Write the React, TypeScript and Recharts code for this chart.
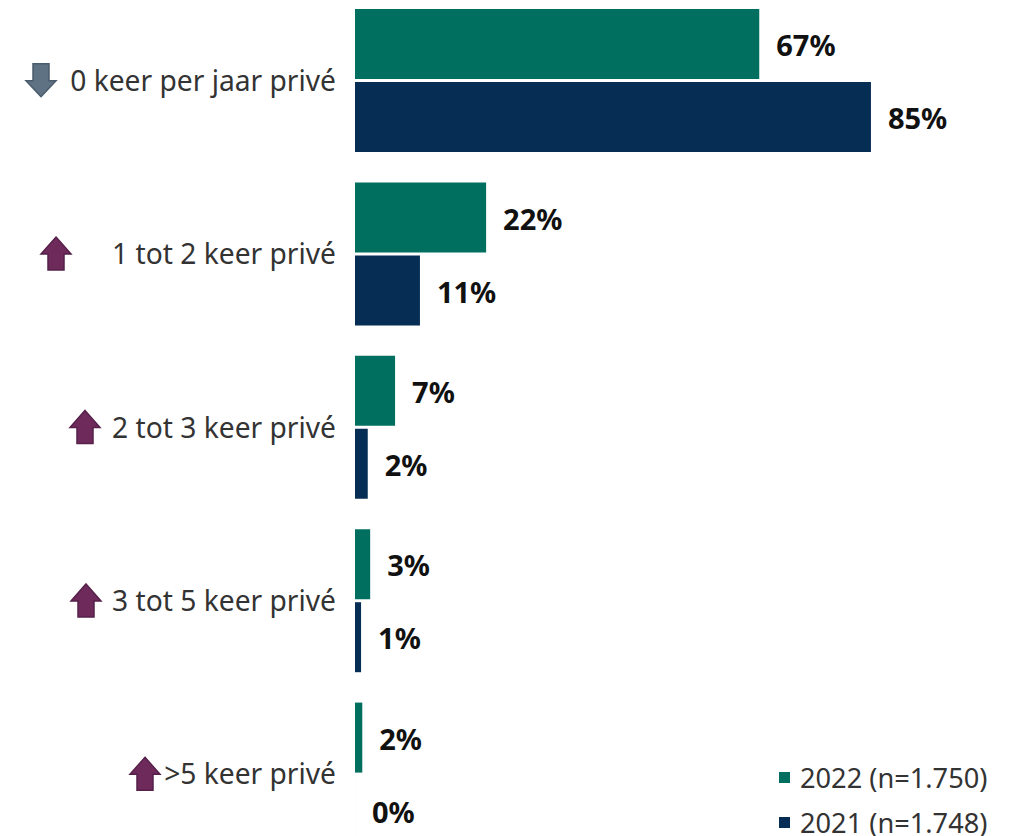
import React from 'react';
import { BarChart, Bar, XAxis, YAxis, LabelList } from 'recharts';

const categories = ['0 keer per jaar privé', '1 tot 2 keer privé', '2 tot 3 keer privé', '3 tot 5 keer privé', '>5 keer privé'];
const values2022 = [66.6, 21.6, 6.6, 2.5, 1.2];
const values2021 = [85, 10.7, 2.1, 1, 0.002];
const labels2022 = ['67%', '22%', '7%', '3%', '2%'];
const labels2021 = ['85%', '11%', '2%', '1%', '0%'];
const trend = ['down', 'up', 'up', 'up', 'up'];
const seriesNames = ['2022 (n=1.750)', '2021 (n=1.748)'];

const data = categories.map((name, i) => ({
  name,
  a: values2022[i],
  b: values2021[i],
  la: labels2022[i],
  lb: labels2021[i],
  trend: trend[i],
}));

const GREEN = '#006f5f';
const NAVY = '#062d53';
const FONT = '"Noto Sans", sans-serif';
const arrowLeft = [25, 40, 69, 70, 129];

const Tick = (props: any) => {
  const { y, payload, index } = props;
  const isUp = trend[index] === 'up';
  const ax = arrowLeft[index];
  const ay = y - 17;
  const up = 'M16 0 L31 17 L24 17 L24 33 L8 33 L8 17 L1 17 Z';
  const down = 'M8 0 L24 0 L24 17 L31 17 L16 33 L1 17 L8 17 Z';
  return (
    <g>
      <path
        transform={`translate(${ax},${ay})`}
        d={isUp ? up : down}
        fill={isUp ? '#6f2a5c' : '#5f7284'}
        stroke={isUp ? '#56204a' : '#4a5c6c'}
        strokeWidth={1.5}
      />
      <text x={336} y={y} dy={10} textAnchor="end" fontFamily={FONT} fontSize={28.2} fill="#333333">
        {payload.value}
      </text>
    </g>
  );
};

const labelStyle = { fontFamily: FONT, fontSize: 29, fontWeight: 700, fill: '#111111' };

export default function App() {
  return (
    <div style={{ position: 'absolute', left: 0, top: 0, width: 1013, height: 836, overflow: 'hidden', background: '#fff' }}>
      <div style={{ position: 'absolute', left: 0, top: -6 }}>
        <BarChart
          width={1013}
          height={867}
          data={data}
          layout="vertical"
          margin={{ top: 0, right: 51, bottom: 0, left: 0 }}
          barSize={70}
          barGap={3}
        >
          <XAxis type="number" domain={[0, 100]} hide />
          <YAxis type="category" dataKey="name" width={355} axisLine={false} tickLine={false} tick={<Tick />} interval={0} />
          <Bar dataKey="a" fill={GREEN} isAnimationActive={false}>
            <LabelList dataKey="la" position="right" offset={17} dy={2} style={labelStyle} />
          </Bar>
          <Bar dataKey="b" fill={NAVY} isAnimationActive={false}>
            <LabelList dataKey="lb" position="right" offset={17} dy={2} style={labelStyle} />
          </Bar>
        </BarChart>
      </div>
      <div style={{ position: 'absolute', left: 779, top: 755, width: 234, fontFamily: FONT, fontSize: 27.2, color: '#333333', lineHeight: '45px', whiteSpace: 'nowrap' }}>
        {seriesNames.map((n, i) => (
          <div key={n} style={{ display: 'flex', alignItems: 'center' }}>
            <span style={{ display: 'inline-block', width: 11, height: 11, background: i === 0 ? GREEN : NAVY, marginRight: 10 }} />
            {n}
          </div>
        ))}
      </div>
    </div>
  );
}
